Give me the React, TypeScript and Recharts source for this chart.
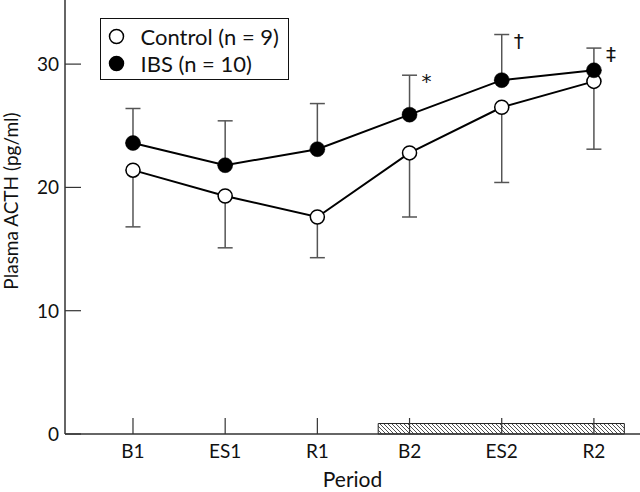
import {
  ComposedChart,
  Line,
  XAxis,
  YAxis,
  ErrorBar,
  ReferenceArea,
  Legend,
  LabelList,
} from "recharts";

const periods = ["B1", "ES1", "R1", "B2", "ES2", "R2"];
const controlMean = [21.4, 19.3, 17.6, 22.8, 26.5, 28.6];
const controlErr = [4.6, 4.2, 3.3, 5.2, 6.1, 5.5];
const ibsMean = [23.6, 21.8, 23.1, 25.9, 28.7, 29.5];
const ibsErr = [2.8, 3.6, 3.7, 3.2, 3.7, 1.8];
const notes = ["", "", "", "*", "\u2020", "\u2021"];
const yTicks = [0, 10, 20, 30];
const stressSpan = [3.66, 6.33];
const stressHeight = 0.85;
const seriesNames = ["Control (n = 9)", "IBS (n = 10)"];
const legendFills = ["#fff", "#000"];

const data = periods.map((p, i) => ({
  x: i + 1,
  period: p,
  control: controlMean[i],
  controlErr: [controlErr[i], 0],
  ibs: ibsMean[i],
  ibsErr: [0, ibsErr[i]],
  ibsTop: ibsMean[i] + ibsErr[i],
  note: notes[i],
}));

const FONT = "Lato, 'Open Sans', sans-serif";
const AXIS = "#333";

function XTick({ x, y, payload }: any) {
  return (
    <g>
      <line x1={x} y1={y} x2={x} y2={y - 16} stroke={AXIS} strokeWidth={1.2} />
      <text x={x} y={y + 24} textAnchor="middle" fontSize={19} fill="#111" fontFamily={FONT}>
        {periods[payload.value - 1]}
      </text>
    </g>
  );
}

function YTick({ x, y, payload }: any) {
  return (
    <g>
      <line x1={x} y1={y} x2={x + 16} y2={y} stroke={AXIS} strokeWidth={1.2} />
      <text x={x - 6} y={y + 7} textAnchor="end" fontSize={19} fill="#111" fontFamily={FONT}>
        {payload.value}
      </text>
    </g>
  );
}

function YLabel() {
  return (
    <text
      x={18}
      y={201}
      transform="rotate(-90, 18, 201)"
      textAnchor="middle"
      fontSize={19}
      fill="#111"
      fontFamily={FONT}
    >
      Plasma ACTH (pg/ml)
    </text>
  );
}

function LegendBox({ payload }: any) {
  const items = (payload || []).filter((p: any) => seriesNames.includes(p.value));
  return (
    <div
      style={{
        width: 189,
        height: 62,
        border: "1.5px solid #111",
        boxSizing: "border-box",
        background: "#fff",
      }}
    >
      <svg width={186} height={59} style={{ display: "block" }}>
        {items.map((p: any) => {
          const i = seriesNames.indexOf(p.value);
          return (
            <g key={p.value}>
              <circle
                cx={15.5}
                cy={17.5 + i * 27}
                r={7}
                fill={legendFills[i]}
                stroke="#000"
                strokeWidth={1.5}
              />
              <text x={39.5} y={17.5 + i * 27 + 8} fontSize={22} fill="#111" fontFamily={FONT}>
                {p.value}
              </text>
            </g>
          );
        })}
      </svg>
    </div>
  );
}

function Note({ x, y, value }: any) {
  if (!value) return null;
  return (
    <text x={x + 12} y={y + 13} fontSize={20} fill="#111" fontFamily="'DejaVu Sans', sans-serif">
      {value}
    </text>
  );
}

export default function App() {
  return (
    <div style={{ position: "absolute", left: 0, top: 0, background: "#fff" }}>
      <ComposedChart
        width={640}
        height={492}
        data={data}
        margin={{ top: 0, right: 0, bottom: 0, left: 0 }}
      >
        <defs>
          <pattern id="hatch" patternUnits="userSpaceOnUse" width={4} height={4}>
            <path d="M-1,-1 L5,5 M-1,3 L1,5 M3,-1 L5,1" stroke="#222" strokeWidth={0.8} />
          </pattern>
        </defs>
        <ReferenceArea
          x1={stressSpan[0]}
          x2={stressSpan[1]}
          y1={0}
          y2={stressHeight}
          fill="url(#hatch)"
          fillOpacity={1}
          stroke="#222"
          strokeWidth={1}
        />
        <XAxis
          type="number"
          dataKey="x"
          domain={[0.2625, 6.5]}
          ticks={[1, 2, 3, 4, 5, 6]}
          height={58}
          tickSize={0}
          tickMargin={0}
          tick={<XTick />}
          stroke={AXIS}
          strokeWidth={1.5}
          label={{
            value: "Period",
            position: "insideBottom",
            offset: 5,
            fontSize: 21,
            fill: "#111",
            fontFamily: FONT,
          }}
        />
        <YAxis
          type="number"
          domain={[0, 35.2]}
          ticks={yTicks}
          width={65}
          tickSize={0}
          tickMargin={0}
          tick={<YTick />}
          stroke={AXIS}
          strokeWidth={1.5}
          label={<YLabel />}
        />
        <Legend
          layout="vertical"
          align="center"
          verticalAlign="middle"
          wrapperStyle={{ left: 100, top: 18, width: 189, height: 62 }}
          content={<LegendBox />}
        />
        <Line
          dataKey="control"
          stroke="none"
          dot={false}
          activeDot={false}
          legendType="none"
          isAnimationActive={false}
        >
          <ErrorBar dataKey="controlErr" direction="y" width={7.5} stroke="#555" strokeWidth={1.5} />
        </Line>
        <Line
          dataKey="ibs"
          stroke="none"
          dot={false}
          activeDot={false}
          legendType="none"
          isAnimationActive={false}
        >
          <ErrorBar dataKey="ibsErr" direction="y" width={7.5} stroke="#555" strokeWidth={1.5} />
        </Line>
        <Line
          dataKey="control"
          name={seriesNames[0]}
          stroke="#000"
          strokeWidth={2}
          dot={{ r: 7, fill: "#fff", stroke: "#000", strokeWidth: 1.5 }}
          activeDot={false}
          isAnimationActive={false}
        />
        <Line
          dataKey="ibs"
          name={seriesNames[1]}
          stroke="#000"
          strokeWidth={2}
          dot={{ r: 7.5, fill: "#000", stroke: "#000", strokeWidth: 0.5 }}
          activeDot={false}
          isAnimationActive={false}
        />
        <Line
          dataKey="ibsTop"
          stroke="none"
          dot={false}
          activeDot={false}
          legendType="none"
          isAnimationActive={false}
        >
          <LabelList dataKey="note" content={<Note />} />
        </Line>
      </ComposedChart>
    </div>
  );
}
